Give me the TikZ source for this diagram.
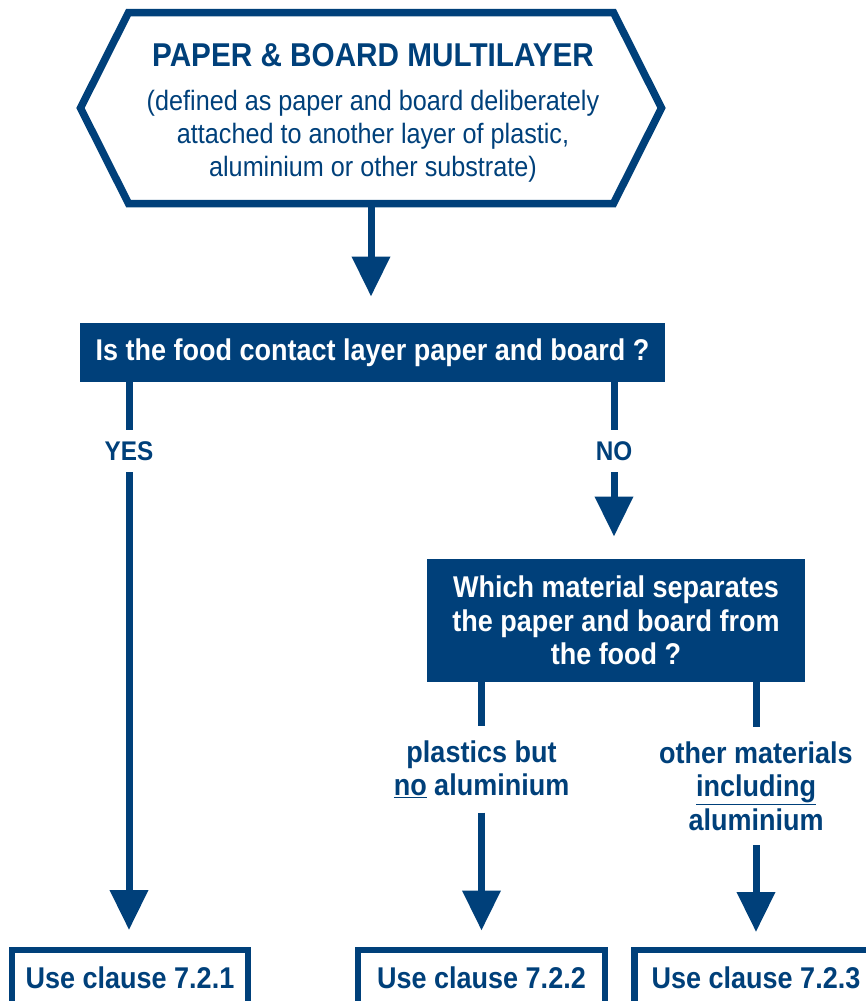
\documentclass[tikz,border=0pt]{standalone}
\usepackage{fontspec}
\setmainfont{Liberation Sans}[FakeStretch=0.9]
\usepackage{tikz}
\usetikzlibrary{arrows.meta,calc}
\definecolor{navy}{RGB}{0,64,122}
\def\flowwidth{7pt}
\def\hexsep{48}

\begin{document}
\begin{tikzpicture}[x=1pt,y=1pt,line width=\flowwidth,draw=navy,
    >={Triangle[width=37pt,length=40pt]}]
    \tikzstyle{every node}=[inner sep=0pt]
    \tikzstyle{bigfont}=[font=\bfseries\fontsize{30}{33.5}\selectfont]
    \tikzstyle{question}=[rectangle,fill=navy,text=white,bigfont,align=center]
    \tikzstyle{answer}=[text=navy,bigfont,align=center,anchor=north,inner sep=11pt]
    \tikzstyle{yesno}=[text=navy,font=\bfseries\fontsize{27}{30}\selectfont,anchor=north,inner sep=8pt]
    \tikzstyle{clause}=[rectangle,draw=navy,line width=6.5pt,fill=white,text=navy,bigfont,anchor=north,minimum height=56pt]
    \tikzstyle{flow}=[->,draw=navy,line width=\flowwidth]
    \tikzstyle{stub}=[draw=navy,line width=\flowwidth,shorten <=-6pt]

    \useasboundingbox (0,0) rectangle (865,-1001);

    % Draw the start shape
    \node[minimum width=478pt,minimum height=184pt] (start) at (371,-108) {};
    \draw[line width=7.5pt,line join=miter] (start.north west) -- (start.north east)
        -- ($(start.east)+(\hexsep,0)$) -- (start.south east) -- (start.south west)
        -- ($(start.west)+(-\hexsep,0)$) -- cycle;
    \node[text=navy,font=\bfseries\fontsize{33}{33}\selectfont] (start-t) at (373,-55) {PAPER \& BOARD MULTILAYER};
    \node[text=navy,font=\fontsize{28}{33}\selectfont,align=center,anchor=north] (start-s) at (373,-87)
        {(defined as paper and board deliberately\\attached to another layer of plastic,\\aluminium or other substrate)};

    % Draw the questions
    \node[question,minimum width=585pt,minimum height=59pt] (Q-1) at (372.5,-352.5)
        {Is the food contact layer paper and board ?};
    \node[question,minimum width=378pt,minimum height=123pt] (Q-2) at (616,-620.5)
        {Which material separates\\the paper and board from\\the food ?};

    % Draw the answers
    \node[yesno] (yes) at (129,-430) {YES};
    \node[yesno] (no) at (614,-430) {NO};
    \node[answer] (A-1) at (481.5,-726) {plastics but\\\underline{no} aluminium};
    \node[answer] (A-2) at (756,-727) {other materials\\\underline{including}\\aluminium};

    % Draw the clauses
    \node[clause,minimum width=236pt] (C-1) at (130,-946.5) {Use clause 7.2.1};
    \node[clause,minimum width=247pt] (C-2) at (481.5,-946.5) {Use clause 7.2.2};
    \node[clause,minimum width=243pt] (C-3) at (756,-946.5) {Use clause 7.2.3};

    % Connect the boxes
    \draw[flow,shorten >=23pt] (start.south) -- (start.south |- Q-1.north);
    \draw[stub] (Q-1.south -| yes.north) -- (yes.north);
    \draw[stub] (Q-1.south -| no.north) -- (no.north);
    \draw[flow,shorten >=16.5pt] (yes.south) -- (yes.south |- C-1.north);
    \draw[flow,shorten >=19pt] (no.south) -- (no.south |- Q-2.north);
    \draw[stub] (Q-2.south -| A-1.north) -- (A-1.north);
    \draw[stub] (Q-2.south -| A-2.north) -- (A-2.north);
    \draw[flow,shorten >=16pt] (A-1.south) -- (A-1.south |- C-2.north);
    \draw[flow,shorten >=14.5pt] (A-2.south) -- (A-2.south |- C-3.north);
\end{tikzpicture}
\end{document}
